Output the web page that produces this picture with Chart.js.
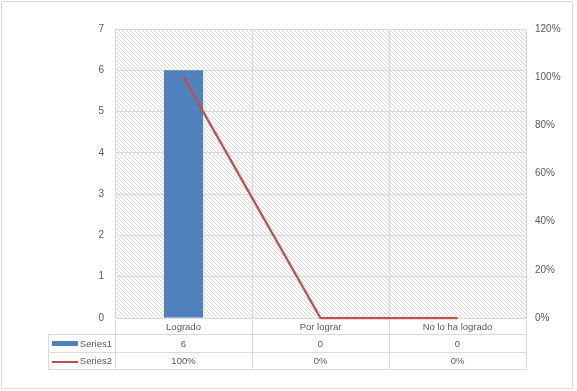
<!DOCTYPE html>
<html>
<head>
<meta charset="utf-8">
<script src="https://cdn.jsdelivr.net/npm/chart.js@4.4.1/dist/chart.umd.min.js"></script>
<style>
html,body{margin:0;padding:0;background:#fff;}
#wrap{position:relative;width:577px;height:391px;}
</style>
</head>
<body>
<div id="wrap"><canvas id="c" width="577" height="391"></canvas></div>
<script>
const categories = ["Logrado", "Por lograr", "No lo ha logrado"];
const series1 = [6, 0, 0];
const series2 = [100, 0, 0]; // percent
const series1Name = "Series1";
const series2Name = "Series2";
const leftTicks = [0, 1, 2, 3, 4, 5, 6, 7];
const rightTicks = [0, 20, 40, 60, 80, 100, 120];

const GRID = '#d9d9d9';
const TXT = '#595959';
const FONT = '"Liberation Sans", Arial, sans-serif';
const BLUE = '#4f81bd';
const RED = '#c0504d';

function makePattern(ctx) {
  const p = document.createElement('canvas');
  p.width = 4; p.height = 4;
  const pc = p.getContext('2d');
  pc.fillStyle = '#ffffff';
  pc.fillRect(0, 0, 4, 4);
  pc.fillStyle = '#d6d6d6';
  for (let i = 0; i < 4; i++) pc.fillRect(i, i, 1, 1);
  return ctx.createPattern(p, 'repeat');
}

const bgPlugin = {
  id: 'bg',
  beforeDraw(chart) {
    const ctx = chart.ctx, a = chart.chartArea;
    ctx.save();
    ctx.fillStyle = '#fff';
    ctx.fillRect(0, 0, chart.width, chart.height);
    ctx.fillStyle = makePattern(ctx);
    ctx.fillRect(a.left, a.top, a.right - a.left, a.bottom - a.top);
    ctx.restore();
  }
};

const tablePlugin = {
  id: 'table',
  afterDraw(chart) {
    const ctx = chart.ctx, a = chart.chartArea, xs = chart.scales.x;
    const centers = categories.map((_, i) => xs.getPixelForValue(i));
    const bounds = [a.left];
    for (let i = 0; i < centers.length - 1; i++) bounds.push((centers[i] + centers[i + 1]) / 2);
    bounds.push(a.right);
    const tableLeft = 48;
    const rows = [a.bottom, 334, 352, 369];
    ctx.save();
    ctx.strokeStyle = GRID;
    ctx.lineWidth = 1;
    ctx.beginPath();
    for (let r = 1; r < rows.length; r++) {
      ctx.moveTo(tableLeft, Math.round(rows[r]) + 0.5);
      ctx.lineTo(a.right, Math.round(rows[r]) + 0.5);
    }
    bounds.forEach(b => {
      ctx.moveTo(Math.round(b) + 0.5, a.bottom + 2);
      ctx.lineTo(Math.round(b) + 0.5, rows[3] + 0.5);
    });
    ctx.moveTo(tableLeft + 0.5, rows[1]);
    ctx.lineTo(tableLeft + 0.5, rows[3] + 0.5);
    ctx.moveTo(1.5, 1.5); ctx.lineTo(572.5, 1.5); ctx.lineTo(572.5, 388.5); ctx.lineTo(1.5, 388.5); ctx.closePath();
    ctx.stroke();
    ctx.restore();

    ctx.save();
    ctx.fillStyle = TXT;
    ctx.font = '9.5px ' + FONT;
    ctx.textAlign = 'center';
    ctx.textBaseline = 'middle';
    const mid = (r) => (rows[r] + rows[r + 1]) / 2 + 1;
    categories.forEach((c, i) => ctx.fillText(c, centers[i], mid(0)));
    series1.forEach((v, i) => ctx.fillText(String(v), centers[i], mid(1)));
    series2.forEach((v, i) => ctx.fillText(v + '%', centers[i], mid(2)));
    ctx.textAlign = 'right';
    ctx.fillText(series1Name, a.left - 3, mid(1));
    ctx.fillText(series2Name, a.left - 3, mid(2));
    ctx.fillStyle = BLUE;
    ctx.fillRect(52, Math.round(mid(1)) - 3, 26, 5);
    ctx.strokeStyle = RED;
    ctx.lineWidth = 2;
    ctx.beginPath();
    ctx.moveTo(52, Math.round(mid(2)));
    ctx.lineTo(78, Math.round(mid(2)));
    ctx.stroke();
    ctx.restore();
  }
};

new Chart(document.getElementById('c'), {
  type: 'bar',
  data: {
    labels: categories,
    datasets: [
      {
        type: 'line', label: series2Name, data: series2, yAxisID: 'y2',
        borderColor: RED, borderWidth: 2.25, pointRadius: 0, tension: 0, order: 0, clip: false
      },
      {
        type: 'bar', label: series1Name, data: series1, yAxisID: 'y',
        backgroundColor: BLUE, barPercentage: 1, categoryPercentage: 1 / 3.5, order: 1
      }
    ]
  },
  options: {
    responsive: false,
    animation: false,
    layout: { padding: { left: 0, right: 0, top: 29, bottom: 73 } },
    plugins: { legend: { display: false }, tooltip: { enabled: false } },
    scales: {
      x: {
        offset: true,
        grid: { color: GRID, offset: true, drawTicks: false },
        border: { color: GRID },
        ticks: { display: false },
        afterFit(s) { s.height = 0; }
      },
      y: {
        position: 'left', min: 0, max: leftTicks[leftTicks.length - 1],
        afterBuildTicks(s) { s.ticks = leftTicks.map(v => ({ value: v })); },
        grid: { color: GRID, drawTicks: false },
        border: { display: false },
        ticks: { color: TXT, font: { family: FONT, size: 10 }, padding: 11 },
        afterFit(s) { s.width = 115; }
      },
      y2: {
        position: 'right', min: 0, max: rightTicks[rightTicks.length - 1],
        afterBuildTicks(s) { s.ticks = rightTicks.map(v => ({ value: v })); },
        grid: { display: false, drawTicks: false },
        border: { display: false },
        ticks: { color: TXT, font: { family: FONT, size: 10 }, padding: 9, callback: v => v + '%' },
        afterFit(s) { s.width = 51; }
      }
    }
  },
  plugins: [bgPlugin, tablePlugin]
});
</script>
</body>
</html>
